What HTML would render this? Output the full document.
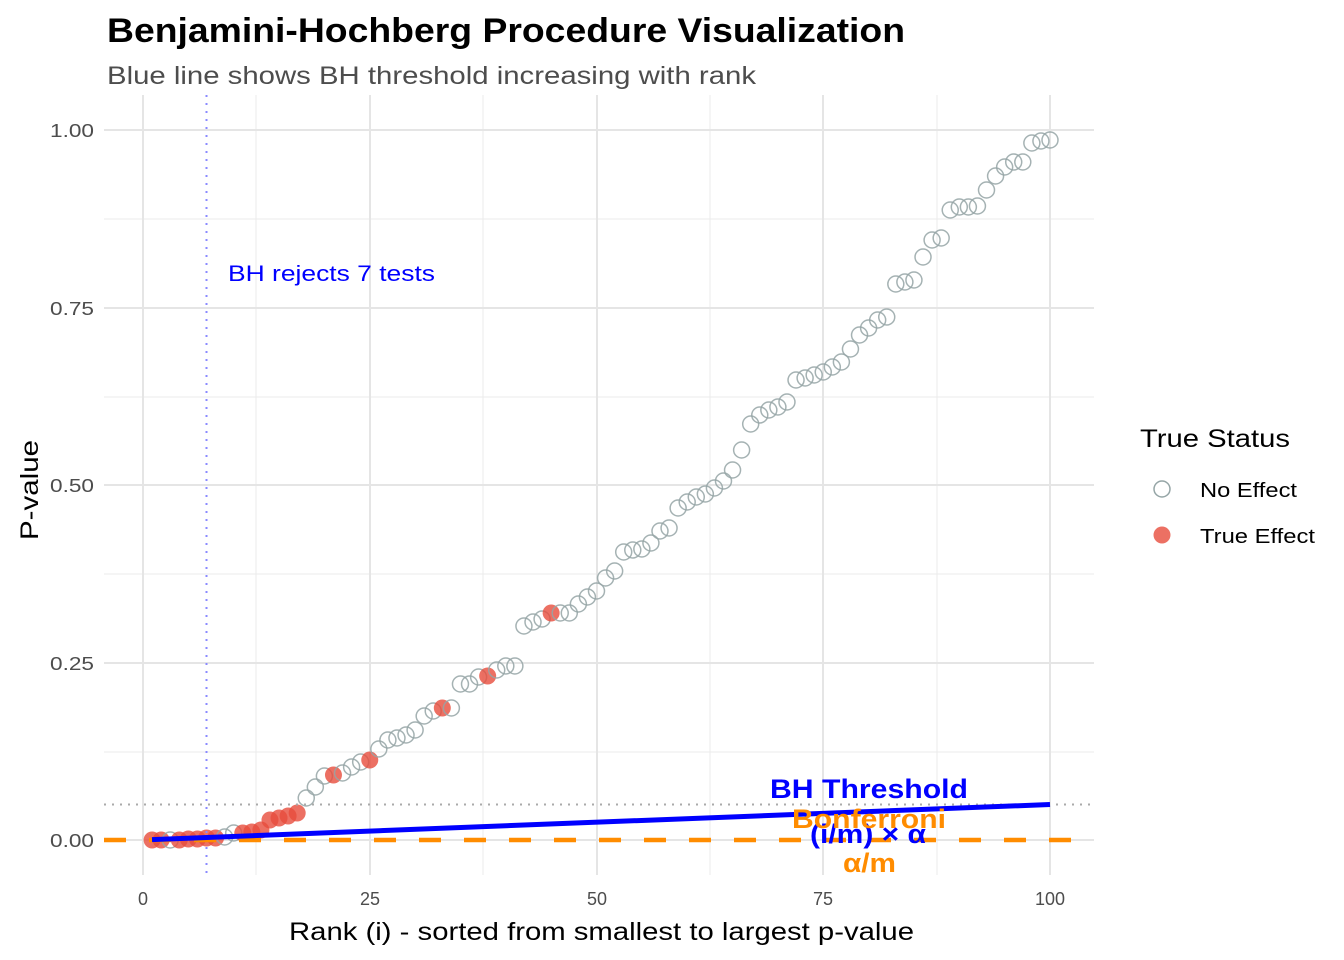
<!DOCTYPE html>
<html><head><meta charset="utf-8"><style>
body{margin:0;background:#fff}
svg{display:block;font-family:"Liberation Sans",Arial,sans-serif}
</style></head><body>
<svg id="s" width="1344" height="960" viewBox="0 0 1344 960" xmlns="http://www.w3.org/2000/svg">
<rect width="1344" height="960" fill="#fff"/>
<g stroke="#ebebeb" stroke-width="1">
<line x1="256" y1="95" x2="256" y2="875"/><line x1="483" y1="95" x2="483" y2="875"/><line x1="710" y1="95" x2="710" y2="875"/><line x1="937" y1="95" x2="937" y2="875"/>
<line x1="104" y1="219" x2="1094" y2="219"/><line x1="104" y1="397" x2="1094" y2="397"/><line x1="104" y1="574" x2="1094" y2="574"/><line x1="104" y1="752" x2="1094" y2="752"/>
</g>
<g stroke="#e5e5e5" stroke-width="2">
<line x1="143" y1="95" x2="143" y2="875"/><line x1="370" y1="95" x2="370" y2="875"/><line x1="597" y1="95" x2="597" y2="875"/><line x1="823" y1="95" x2="823" y2="875"/><line x1="1050" y1="95" x2="1050" y2="875"/>
<line x1="104" y1="130" x2="1094" y2="130"/><line x1="104" y1="308" x2="1094" y2="308"/><line x1="104" y1="485" x2="1094" y2="485"/><line x1="104" y1="663" x2="1094" y2="663"/><line x1="104" y1="840" x2="1094" y2="840"/>
</g>
<g id="pts"></g>
<line x1="104" y1="804.5" x2="1094" y2="804.5" stroke="#aaa" stroke-width="2" stroke-dasharray="2,6"/>
<line x1="206.5" y1="95" x2="206.5" y2="875" stroke="#8a8aff" stroke-width="2" stroke-dasharray="2,6"/>
<line x1="104" y1="840" x2="1094" y2="840" stroke="#ff8c00" stroke-width="4.5" stroke-dasharray="22,23"/>
<line x1="152" y1="839.6" x2="1050" y2="804.5" stroke="#0000ff" stroke-width="5"/>
<text x="228" y="281" font-size="22" fill="#0000ff" textLength="207" lengthAdjust="spacingAndGlyphs">BH rejects 7 tests</text>
<text x="770" y="798" font-size="27" font-weight="bold" fill="#0000ff" textLength="198" lengthAdjust="spacingAndGlyphs">BH Threshold</text>
<text x="810" y="843" font-size="27" font-weight="bold" fill="#0000ff" textLength="116" lengthAdjust="spacingAndGlyphs">(i/m) × α</text>
<text x="792" y="828" font-size="27" font-weight="bold" fill="#ff8c00" textLength="154" lengthAdjust="spacingAndGlyphs">Bonferroni</text>
<text x="843" y="872" font-size="27" font-weight="bold" fill="#ff8c00" textLength="53" lengthAdjust="spacingAndGlyphs">α/m</text>
<g font-size="18" fill="#4d4d4d">
<text x="50" y="137" textLength="44" lengthAdjust="spacingAndGlyphs">1.00</text><text x="50" y="315" textLength="44" lengthAdjust="spacingAndGlyphs">0.75</text><text x="50" y="492" textLength="44" lengthAdjust="spacingAndGlyphs">0.50</text><text x="50" y="670" textLength="44" lengthAdjust="spacingAndGlyphs">0.25</text><text x="50" y="847" textLength="44" lengthAdjust="spacingAndGlyphs">0.00</text>
</g>
<g font-size="18" fill="#4d4d4d" text-anchor="middle">
<text x="143" y="905">0</text><text x="370" y="905">25</text><text x="597" y="905">50</text><text x="823" y="905">75</text><text x="1050" y="905">100</text>
</g>
<text x="289" y="940" font-size="25" fill="#000" textLength="625" lengthAdjust="spacingAndGlyphs">Rank (i) - sorted from smallest to largest p-value</text>
<text x="0" y="0" font-size="25" fill="#000" textLength="100" lengthAdjust="spacingAndGlyphs" transform="translate(38,540) rotate(-90)">P-value</text>
<text x="107" y="42" font-size="34" font-weight="bold" fill="#000" textLength="798" lengthAdjust="spacingAndGlyphs">Benjamini-Hochberg Procedure Visualization</text>
<text x="107" y="84" font-size="25" fill="#4d4d4d" textLength="649" lengthAdjust="spacingAndGlyphs">Blue line shows BH threshold increasing with rank</text>
<text x="1140" y="447" font-size="25" fill="#000" textLength="150" lengthAdjust="spacingAndGlyphs">True Status</text>
<circle cx="1162" cy="489" r="8" fill="none" stroke="#95a5a6" stroke-width="1.5"/>
<circle cx="1162" cy="535" r="8.5" fill="#e74c3c" fill-opacity="0.8"/>
<text x="1200" y="497" font-size="20" fill="#000" textLength="97" lengthAdjust="spacingAndGlyphs">No Effect</text>
<text x="1200" y="543" font-size="20" fill="#000" textLength="115" lengthAdjust="spacingAndGlyphs">True Effect</text>
</svg>
<script>
var ys=[840,840,840,840,839,839,838,838,837,833,833,832,830,820,818,816,813,798,787,776,775,773,767,762,760,749,740,738,735,730,716,711,708,708,684,684,677,676,670,666,666,626,622,619,613,613,613,604,597,591,578,571,552,550,549,543,531,528,508,502,497,494,488,481,470,450,424,415,410,407,402,380,378,375,372,367,362,349,335,328,320,317,284,282,280,257,240,238,210,207,207,206,190,176,167,162,162,143,141,140];
var red={1:1,2:1,4:1,5:1,6:1,7:1,8:1,11:1,12:1,13:1,14:1,15:1,16:1,17:1,21:1,25:1,33:1,38:1,45:1};
var g=document.getElementById('pts'),h='';
for(var i=1;i<=100;i++){var x=143+9.07*i,y=ys[i-1];
h+=red[i]?'<circle cx="'+x+'" cy="'+y+'" r="8.5" fill="#e74c3c" fill-opacity="0.8"/>':'<circle cx="'+x+'" cy="'+y+'" r="8" fill="none" stroke="#95a5a6" stroke-opacity="0.85" stroke-width="1.5"/>';}
g.innerHTML=h;
</script>
</body></html>
